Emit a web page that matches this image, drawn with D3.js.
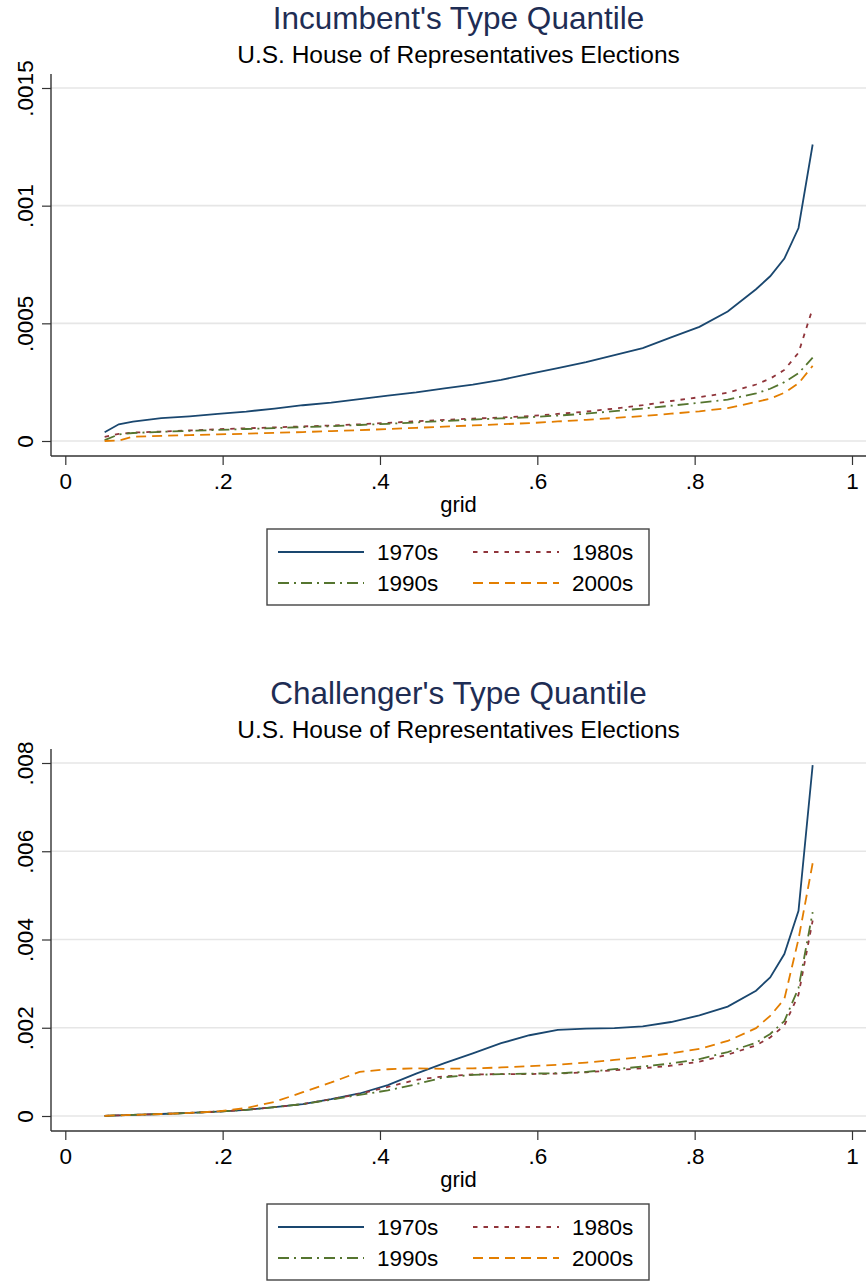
<!DOCTYPE html>
<html>
<head>
<meta charset="utf-8">
<script src="https://cdn.jsdelivr.net/npm/d3@7"></script>
<style>
  body { margin: 0; background: #fff; }
  svg { display: block; font-family: "Liberation Sans", Arial, Helvetica, sans-serif; }
</style>
</head>
<body>
<div id="chart"></div>
<script>
// quantile grid points (x values)
var grid = [0.05, 0.068, 0.086, 0.122, 0.158, 0.194, 0.23, 0.266, 0.302, 0.338, 0.374, 0.41, 0.446, 0.482,
            0.518, 0.554, 0.59, 0.626, 0.662, 0.698, 0.734, 0.77, 0.806, 0.842, 0.878, 0.896, 0.914, 0.932, 0.95];

var decades = ['1970s', '1980s', '1990s', '2000s'];

// incumbent's type quantile (values in units of 1e-4)
var inc1970s = [0.37, 0.71, 0.82, 0.97, 1.05, 1.15, 1.25, 1.38, 1.52, 1.63, 1.78, 1.93, 2.07, 2.24,
                2.40, 2.60, 2.85, 3.10, 3.35, 3.65, 3.95, 4.40, 4.85, 5.5, 6.45, 7.0, 7.75, 9.05, 12.6];
var inc1980s = [0.18, 0.30, 0.36, 0.40, 0.45, 0.50, 0.54, 0.58, 0.62, 0.66, 0.71, 0.77, 0.84, 0.90,
                0.95, 1.00, 1.06, 1.15, 1.25, 1.38, 1.52, 1.70, 1.86, 2.05, 2.40, 2.65, 3.02, 3.75, 5.64];
var inc1990s = [0.04, 0.28, 0.34, 0.39, 0.43, 0.47, 0.51, 0.55, 0.59, 0.63, 0.68, 0.73, 0.79, 0.85,
                0.91, 0.96, 1.01, 1.08, 1.16, 1.27, 1.38, 1.50, 1.63, 1.76, 2.02, 2.22, 2.50, 2.88, 3.54];
var inc2000s = [0.00, 0.02, 0.18, 0.22, 0.25, 0.28, 0.31, 0.35, 0.38, 0.42, 0.46, 0.51, 0.56, 0.61,
                0.66, 0.71, 0.76, 0.83, 0.90, 0.98, 1.06, 1.16, 1.26, 1.40, 1.66, 1.80, 2.05, 2.45, 3.19];

// challenger's type quantile (values in units of 1e-4)
var cha1970s = [0.05, 0.15, 0.25, 0.45, 0.7, 1.0, 1.4, 2.0, 2.7, 3.8, 5.1, 7.0, 9.6, 12.0,
                14.2, 16.5, 18.3, 19.5, 19.8, 19.9, 20.3, 21.3, 22.8, 24.8, 28.4, 31.4, 36.7, 46.5, 79.5];
var cha1980s = [0.05, 0.15, 0.25, 0.45, 0.7, 1.0, 1.4, 2.0, 2.7, 3.8, 5.0, 6.6, 8.2, 9.0,
                9.4, 9.5, 9.5, 9.6, 9.9, 10.4, 10.8, 11.4, 12.3, 13.9, 16.0, 17.8, 20.5, 27.5, 44.3];
var cha1990s = [0.05, 0.15, 0.25, 0.45, 0.7, 1.0, 1.4, 2.0, 2.7, 3.7, 4.8, 5.8, 7.2, 8.8,
                9.3, 9.5, 9.6, 9.7, 10.0, 10.6, 11.2, 11.9, 12.9, 14.5, 16.6, 18.6, 21.5, 29.0, 46.2];
var cha2000s = [0.05, 0.15, 0.25, 0.45, 0.7, 1.05, 1.8, 3.2, 5.4, 7.6, 10.0, 10.6, 10.8, 10.7,
                10.8, 11.0, 11.3, 11.6, 12.1, 12.7, 13.4, 14.2, 15.2, 17.0, 19.9, 22.7, 26.5, 40.1, 57.3];

var xTicks = [0, 0.2, 0.4, 0.6, 0.8, 1];
var xTickLabels = ['0', '.2', '.4', '.6', '.8', '1'];
var incYTicks = [0, 0.0005, 0.001, 0.0015];
var incYTickLabels = ['0', '.0005', '.001', '.0015'];
var chaYTicks = [0, 0.002, 0.004, 0.006, 0.008];
var chaYTickLabels = ['0', '.002', '.004', '.006', '.008'];

var colors = ['#1a476f', '#90353b', '#55752f', '#e37e00'];
var dashes = [null, '4.5,6', '11,5,2,5', '10,6'];

var width = 867, height = 1284;
var svg = d3.select('#chart').append('svg')
    .attr('width', width)
    .attr('height', height);

function drawPanel (top, title, seriesList, yTicks, yLabels) {
  var axisY = top + 456,
      axisX = 51,
      right = 866;

  var x = d3.scaleLinear().domain([0, 1]).range([65.3, 852]);
  var y = d3.scaleLinear().domain([0, yTicks[yTicks.length - 1]]).range([axisY - 15, axisY - 368]);

  var g = svg.append('g');

  // titles
  g.append('text')
    .attr('x', 458.5).attr('y', top + 29)
    .attr('text-anchor', 'middle')
    .attr('font-size', '31.5px')
    .attr('fill', '#1e2d54')
    .text(title);
  g.append('text')
    .attr('x', 458.5).attr('y', top + 63)
    .attr('text-anchor', 'middle')
    .attr('font-size', '24.5px')
    .attr('fill', '#000')
    .text('U.S. House of Representatives Elections');

  // gridlines
  g.append('g').selectAll('line')
    .data(yTicks)
    .enter().append('line')
    .attr('x1', axisX).attr('x2', right)
    .attr('y1', function(d){ return y(d); })
    .attr('y2', function(d){ return y(d); })
    .attr('stroke', '#e6e6e6')
    .attr('stroke-width', 1.6);

  // y axis
  var yAxis = d3.axisLeft(y)
    .tickValues(yTicks)
    .tickFormat(function(d, i){ return yLabels[i]; })
    .tickSizeInner(9)
    .tickSizeOuter(0);
  var ya = g.append('g')
    .attr('transform', 'translate(' + axisX + ',0)')
    .call(yAxis);
  ya.select('.domain').remove();
  ya.selectAll('.tick line').attr('stroke', '#333').attr('stroke-width', 1.2);
  ya.selectAll('.tick text')
    .attr('x', null).attr('dy', null)
    .attr('transform', 'translate(-18,0) rotate(-90)')
    .attr('text-anchor', 'middle')
    .attr('font-size', '22.5px')
    .attr('fill', '#000');
  g.append('line')
    .attr('x1', axisX).attr('x2', axisX)
    .attr('y1', top + 74).attr('y2', axisY)
    .attr('stroke', '#333').attr('stroke-width', 1.4);

  // x axis
  var xAxis = d3.axisBottom(x)
    .tickValues(xTicks)
    .tickFormat(function(d, i){ return xTickLabels[i]; })
    .tickSizeInner(9)
    .tickSizeOuter(0);
  var xa = g.append('g')
    .attr('transform', 'translate(0,' + axisY + ')')
    .call(xAxis);
  xa.select('.domain').remove();
  xa.selectAll('.tick line').attr('stroke', '#333').attr('stroke-width', 1.2);
  xa.selectAll('.tick text')
    .attr('y', 33).attr('dy', null)
    .attr('font-size', '22.5px')
    .attr('fill', '#000');
  g.append('line')
    .attr('x1', axisX).attr('x2', right)
    .attr('y1', axisY).attr('y2', axisY)
    .attr('stroke', '#333').attr('stroke-width', 1.4);

  g.append('text')
    .attr('x', 458.5).attr('y', axisY + 56)
    .attr('text-anchor', 'middle')
    .attr('font-size', '22px')
    .text('grid');

  // lines
  var line = d3.line()
    .x(function(d){ return x(d[0]); })
    .y(function(d){ return y(d[1]); });

  seriesList.forEach(function(vals, i){
    var pts = grid.map(function(gx, j){ return [gx, vals[j] * 1e-4]; });
    g.append('path')
      .datum(pts)
      .attr('d', line)
      .attr('fill', 'none')
      .attr('stroke', colors[i])
      .attr('stroke-width', 1.8)
      .attr('stroke-dasharray', dashes[i]);
  });

  // legend
  var lg = g.append('g');
  lg.append('rect')
    .attr('x', 267).attr('y', axisY + 73)
    .attr('width', 382).attr('height', 76)
    .attr('fill', '#fff')
    .attr('stroke', '#444')
    .attr('stroke-width', 1.4);

  decades.forEach(function(lab, i){
    var col = i % 2, row = Math.floor(i / 2);
    var x0 = col === 0 ? 278 : 473;
    var cy = axisY + 96 + row * 31;
    lg.append('line')
      .attr('x1', x0).attr('x2', x0 + 86)
      .attr('y1', cy).attr('y2', cy)
      .attr('stroke', colors[i])
      .attr('stroke-width', 1.8)
      .attr('stroke-dasharray', dashes[i]);
    lg.append('text')
      .attr('x', x0 + 99).attr('y', cy)
      .attr('dy', '0.36em')
      .attr('font-size', '22.5px')
      .text(lab);
  });
}

drawPanel(0, "Incumbent's Type Quantile", [inc1970s, inc1980s, inc1990s, inc2000s], incYTicks, incYTickLabels);
drawPanel(675, "Challenger's Type Quantile", [cha1970s, cha1980s, cha1990s, cha2000s], chaYTicks, chaYTickLabels);
</script>
</body>
</html>
